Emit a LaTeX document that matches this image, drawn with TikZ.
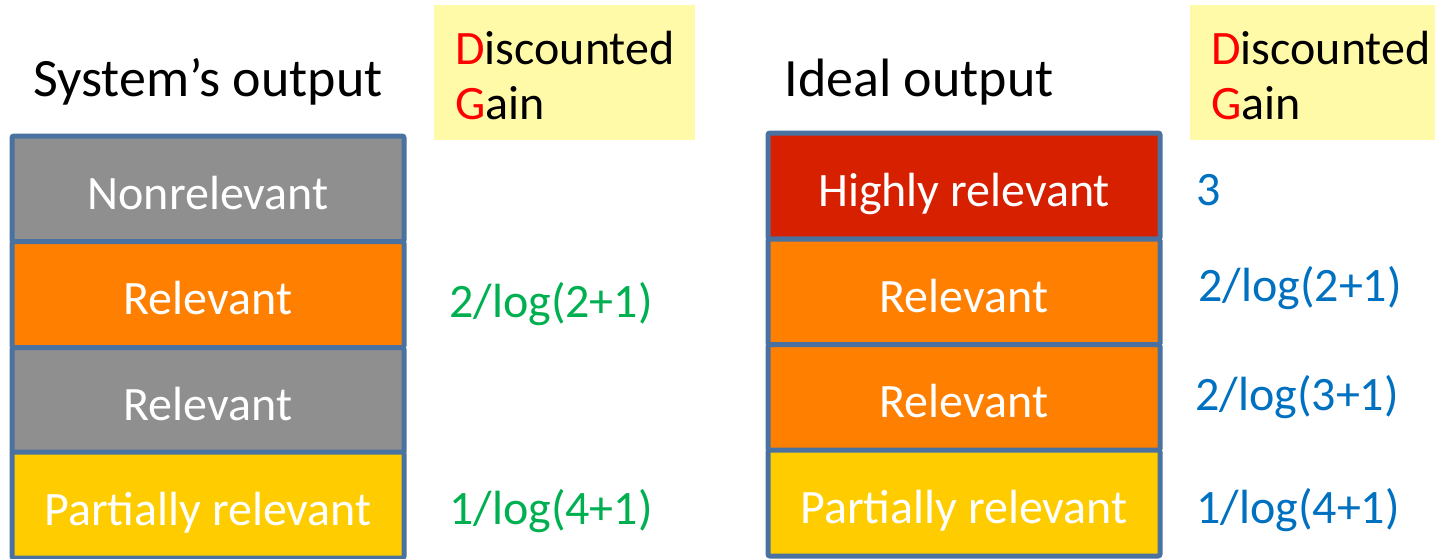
\documentclass[tikz,border=0pt]{standalone}
\usepackage{fontspec}
\setmainfont{Carlito}
\definecolor{frameblue}{HTML}{4A72A0}
\definecolor{nonrelgray}{HTML}{8F8F8F}
\definecolor{relorange}{HTML}{FF7F00}
\definecolor{highred}{HTML}{D62000}
\definecolor{partgold}{HTML}{FFCC00}
\definecolor{gainyellow}{HTML}{FFFAA8}
\definecolor{gaingreen}{HTML}{00B050}
\definecolor{gainblue}{HTML}{0070C0}
\tikzset{
  rankbox/.style={draw=frameblue, line width=2.5pt, rounded corners=1pt, text=white,
    minimum height=53pt, inner sep=0pt, outer sep=0pt, text height=20pt, text depth=0pt,
    font=\fontsize{24}{28}\selectfont},
  headtext/.style={font=\fontsize{27}{32}\selectfont},
  gaintext/.style={font=\fontsize{24}{28}\selectfont},
  dgtext/.style={anchor=north west, align=left, inner sep=0pt,
    font=\fontsize{24}{27.5}\selectfont}
}
\begin{document}
\begin{tikzpicture}[x=0.5pt,y=-0.5pt]
            \useasboundingbox (0,0) rectangle (1435,558);

            % Headings
            \node[headtext] (syshead) at (208,82) {System’s output};
            \node[headtext] (idealhead) at (919,82) {Ideal output};

            % Discounted gain boxes
            \fill[gainyellow] (434,5) rectangle (695,140);
            \node[dgtext] (dgleft) at (455,31) {\textcolor{red}{D}iscounted\\\textcolor{red}{G}ain};
            \fill[gainyellow] (1190,5) rectangle (1435,140);
            \node[dgtext] (dgright) at (1211,31) {\textcolor{red}{D}iscounted\\\textcolor{red}{G}ain};

            % System's output column
            \node[rankbox, fill=nonrelgray, minimum width=196pt] (s1) at (208,189) {Nonrelevant};
            \node[rankbox, fill=relorange, minimum width=196pt] (s2) at (208,294.5) {Relevant};
            \node[rankbox, fill=nonrelgray, minimum width=196pt] (s3) at (208,400.5) {Relevant};
            \node[rankbox, fill=partgold, minimum width=196pt] (s4) at (208,505) {Partially relevant};

            % System's gains
            \node[gaintext, text=gaingreen] (sg2) at (551,304) {2/log(2+1)};
            \node[gaintext, text=gaingreen] (sg4) at (551,511) {1/log(4+1)};

            % Ideal output column
            \node[rankbox, fill=highred, minimum width=196pt] (i1) at (964,186) {Highly relevant};
            \node[rankbox, fill=relorange, minimum width=196pt] (i2) at (964,292) {Relevant};
            \node[rankbox, fill=relorange, minimum width=196pt] (i3) at (964,397.5) {Relevant};
            \node[rankbox, fill=partgold, minimum width=196pt] (i4) at (964,503) {Partially relevant};

            % Ideal gains
            \node[gaintext, text=gainblue, anchor=west, inner sep=0pt] (ig1) at (1196,190) {3};
            \node[gaintext, text=gainblue, anchor=west, inner sep=0pt] (ig2) at (1198,288) {2/log(2+1)};
            \node[gaintext, text=gainblue, anchor=west, inner sep=0pt] (ig3) at (1195,397) {2/log(3+1)};
            \node[gaintext, text=gainblue, anchor=west, inner sep=0pt] (ig4) at (1196,510) {1/log(4+1)};
\end{tikzpicture}
\end{document}
